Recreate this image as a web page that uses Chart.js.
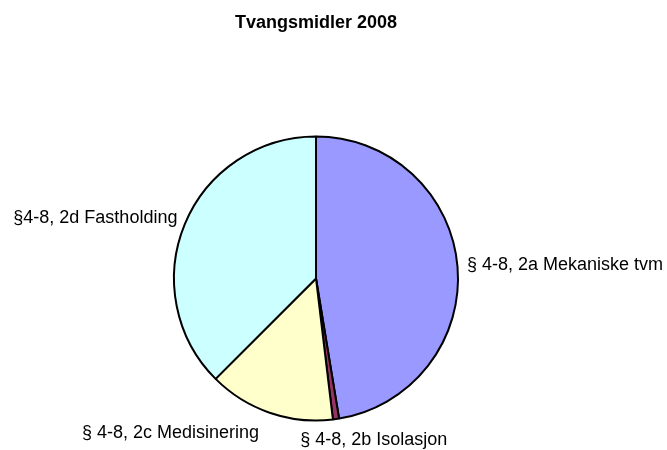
<!DOCTYPE html>
<html>
<head>
<meta charset="utf-8">
<script src="https://cdn.jsdelivr.net/npm/chart.js@4/dist/chart.umd.min.js"></script>
<style>
  html, body { margin: 0; padding: 0; background: #fff; }
  #wrap { width: 667px; height: 450px; }
</style>
</head>
<body>
<div id="wrap"><canvas id="pie"></canvas></div>
<script>
const TITLE = 'Tvangsmidler 2008';
const LABELS = [
  '§ 4-8, 2a Mekaniske tvm',
  '§ 4-8, 2b Isolasjon',
  '§ 4-8, 2c Medisinering',
  '§4-8, 2d Fastholding',
];
const VALUES = [47.4, 0.7, 14.4, 37.5];
const COLORS = ['#9999FF', '#993366', '#FFFFCC', '#CCFFFF'];

// nudges for the outside labels, relative to the point just past the slice edge
const LABEL_NUDGE = [[1.5, -1], [-37, 13], [-8, 12.7], [0, -3]];
const FONT = "'Liberation Sans', Arial, sans-serif";

const outsideLabels = {
  id: 'outsideLabels',
  afterDatasetsDraw(chart) {
    const ctx = chart.ctx;
    const arcs = chart.getDatasetMeta(0).data;
    ctx.save();
    ctx.font = `18px ${FONT}`;
    ctx.fillStyle = '#000';
    ctx.textBaseline = 'middle';
    arcs.forEach((arc, i) => {
      const { x, y, startAngle, endAngle, outerRadius } = arc.getProps(
        ['x', 'y', 'startAngle', 'endAngle', 'outerRadius'], true);
      const mid = (startAngle + endAngle) / 2;
      const r = outerRadius + 8;
      const ax = x + Math.cos(mid) * r + LABEL_NUDGE[i][0];
      const ay = y + Math.sin(mid) * r + LABEL_NUDGE[i][1];
      ctx.textAlign = Math.cos(mid) >= 0 ? 'left' : 'right';
      ctx.fillText(LABELS[i], ax, ay);
    });
    ctx.restore();
  },
};

new Chart(document.getElementById('pie'), {
  type: 'pie',
  data: {
    labels: LABELS,
    datasets: [{
      data: VALUES,
      backgroundColor: COLORS,
      borderColor: '#000',
      borderWidth: 2,
      radius: 142,
    }],
  },
  options: {
    responsive: true,
    maintainAspectRatio: false,
    animation: false,
    layout: { padding: { left: 0, right: 35, top: 0, bottom: 0 } },
    plugins: {
      legend: { display: false },
      tooltip: { enabled: false },
      title: {
        display: true,
        text: TITLE,
        color: '#000',
        font: { family: FONT, size: 18, weight: 'bold' },
        padding: { top: 12, bottom: 73.4 },
      },
    },
  },
  plugins: [outsideLabels],
});
</script>
</body>
</html>
